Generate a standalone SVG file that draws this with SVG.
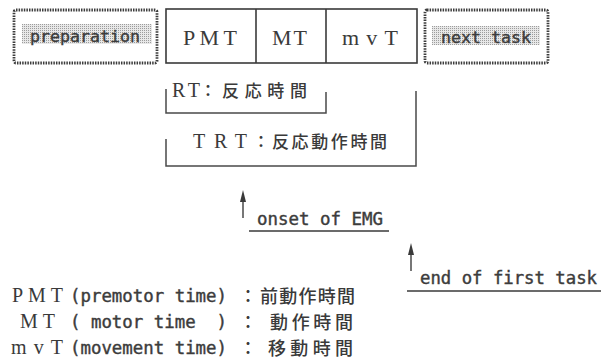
<svg xmlns="http://www.w3.org/2000/svg" width="601" height="362" viewBox="0 0 601 362">
<style>
.ser{font-family:"Liberation Serif","Noto Sans CJK JP",serif;fill:#3a3a3a}
.cjk{font-family:"Noto Sans CJK JP","Noto Sans CJK SC",sans-serif;fill:#3a3a3a;font-weight:500}
.mono{font-family:"DejaVu Sans Mono","Liberation Mono",monospace;fill:#3c3c3c;stroke:#3c3c3c;stroke-width:0.4}
.box{fill:#fff;stroke:#3a3a3a;stroke-width:1.6}
.dot{fill:#fff;stroke:#3c3c3c;stroke-width:2.8;stroke-dasharray:1.5 1.1}
.ln{fill:none;stroke:#4a4a4a;stroke-width:1.5}
.ul{fill:none;stroke:#3a3a3a;stroke-width:1.6}
.head{fill:#3a3a3a}
</style>
<defs>
<pattern id="ht" width="2" height="2" patternUnits="userSpaceOnUse">
<rect width="2" height="2" fill="#e8e8e8"/>
<rect width="1" height="1" fill="#9c9c9c"/>
</pattern>
</defs>
<rect width="601" height="362" fill="#ffffff"/>

<g id="preparation">
<rect class="dot" x="14" y="10" width="143" height="53" rx="2"/>
<rect x="22" y="24" width="130" height="20" fill="url(#ht)"/>
<text class="mono" x="30" y="42" font-size="16.6" textLength="110" lengthAdjust="spacingAndGlyphs">preparation</text>
</g>

<g id="timeline">
<rect class="box" x="166" y="9" width="251" height="54"/>
<line class="box" x1="256" y1="9" x2="256" y2="63"/>
<line class="box" x1="326" y1="9" x2="326" y2="63"/>
<text class="ser" x="183" y="45" font-size="22" textLength="54" lengthAdjust="spacing">PMT</text>
<text class="ser" x="272" y="45" font-size="22" textLength="35" lengthAdjust="spacing">MT</text>
<text class="ser" x="342" y="45" font-size="22" textLength="56" lengthAdjust="spacing">mvT</text>
</g>

<g id="next-task">
<rect class="dot" x="425" y="10" width="123" height="53" rx="2"/>
<rect x="432" y="26" width="108" height="19" fill="url(#ht)"/>
<text class="mono" x="441" y="43" font-size="16.6" textLength="90" lengthAdjust="spacingAndGlyphs">next task</text>
</g>

<g id="connectors">
<polyline class="ln" points="166,89 166,113 326,113 326,92"/>
<polyline class="ln" points="166,139 166,166 416,166 416,91"/>
<line class="ln" x1="243" y1="218" x2="243" y2="198"/>
<polygon class="head" points="243,190 246,202 240,202"/>
<line class="ln" x1="411" y1="271" x2="411" y2="251"/>
<polygon class="head" points="411,243 414,255 408,255"/>
<line class="ul" x1="249" y1="231" x2="389" y2="231"/>
<line class="ul" x1="407" y1="291" x2="601" y2="291"/>
</g>

<g id="rt-label">
<text class="ser" x="172" y="97" font-size="20" textLength="28" lengthAdjust="spacing">RT</text>
<text class="cjk" x="208" y="97" font-size="17" text-anchor="middle">：</text>
<text class="cjk" x="222" y="97" font-size="17" textLength="85" lengthAdjust="spacing">反応時間</text>
</g>

<g id="trt-label">
<text class="ser" x="193" y="148" font-size="20" textLength="54" lengthAdjust="spacing">TRT</text>
<text class="cjk" x="261" y="148" font-size="17" text-anchor="middle">：</text>
<text class="cjk" x="272" y="148" font-size="17" textLength="115" lengthAdjust="spacing">反応動作時間</text>
</g>

<g id="onset-of-emg">
<text class="mono" x="257" y="225" font-size="17" textLength="126" lengthAdjust="spacingAndGlyphs">onset of EMG</text>
</g>

<g id="end-of-first-task">
<text class="mono" x="420" y="284" font-size="17" textLength="177" lengthAdjust="spacingAndGlyphs">end of first task</text>
</g>

<g id="legend">
<text class="ser" x="12" y="302" font-size="20" textLength="51" lengthAdjust="spacing">PMT</text>
<text class="mono" x="70" y="302" font-size="17" textLength="157" lengthAdjust="spacingAndGlyphs">(premotor time)</text>
<text class="cjk" x="248" y="303" font-size="18" text-anchor="middle">：</text>
<text class="cjk" x="260" y="303" font-size="18" textLength="95" lengthAdjust="spacing">前動作時間</text>

<text class="ser" x="20" y="328" font-size="20" textLength="35" lengthAdjust="spacing">MT</text>
<text class="mono" x="70" y="328" font-size="17" textLength="157" lengthAdjust="spacingAndGlyphs" xml:space="preserve">( motor time  )</text>
<text class="cjk" x="248" y="329" font-size="18" text-anchor="middle">：</text>
<text class="cjk" x="270" y="329" font-size="18" textLength="83" lengthAdjust="spacing">動作時間</text>

<text class="ser" x="11" y="354" font-size="20" textLength="52" lengthAdjust="spacing">mvT</text>
<text class="mono" x="70" y="354" font-size="17" textLength="157" lengthAdjust="spacingAndGlyphs">(movement time)</text>
<text class="cjk" x="248" y="355" font-size="18" text-anchor="middle">：</text>
<text class="cjk" x="268" y="355" font-size="18" textLength="85" lengthAdjust="spacing">移動時間</text>
</g>
</svg>
